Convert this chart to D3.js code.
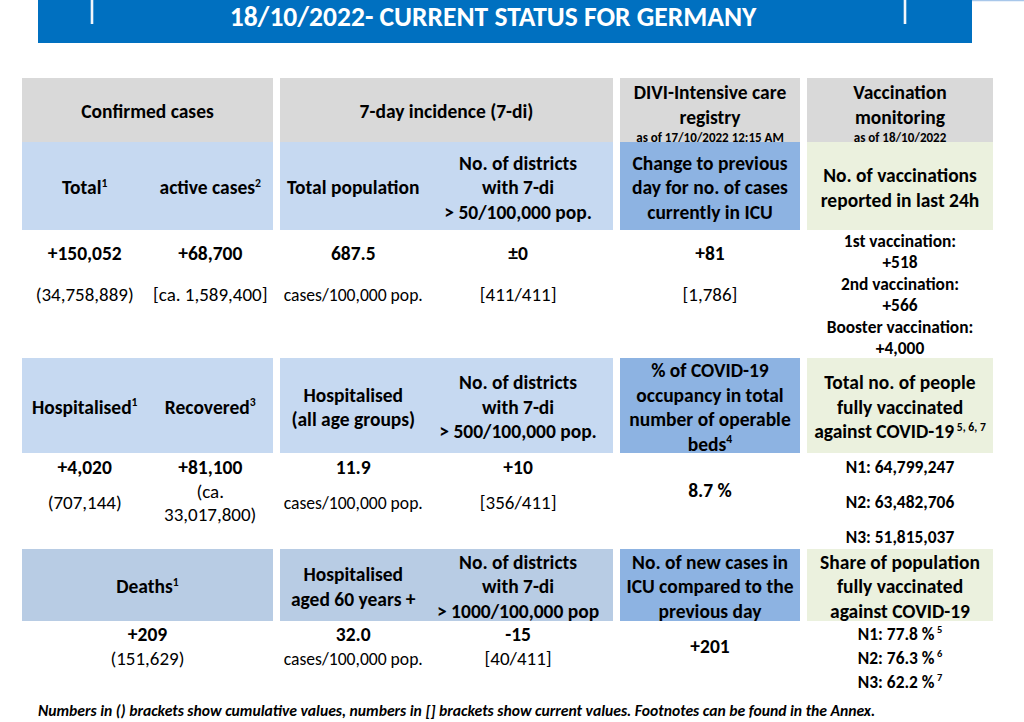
<!DOCTYPE html>
<html>
<head>
<meta charset="utf-8">
<script src="https://cdn.jsdelivr.net/npm/d3@7"></script>
<style>
  html, body { margin: 0; padding: 0; background: #fff; }
  svg { display: block; }
</style>
</head>
<body>
<script>
// ---------- data ----------
const title = "18/10/2022- CURRENT STATUS FOR GERMANY"
const footnote = "Numbers in () brackets show cumulative values, numbers in [] brackets show current values. Footnotes can be found in the Annex."

const groupTitles = [["Confirmed cases"], ["7-day incidence (7-di)"], ["DIVI-Intensive care", "registry"], ["Vaccination", "monitoring"]]
const groupNotes = ["", "", "as of 17/10/2022 12:15 AM", "as of 18/10/2022"]
const slots = ["total", "active", "confirmed", "incPop", "incDist", "icu", "vacc"]

// section 1
const labels1 = [
  {slot: "total", lines: ["Total"], sup: "1"},
  {slot: "active", lines: ["active cases"], sup: "2"},
  {slot: "incPop", lines: ["Total population"]},
  {slot: "incDist", lines: ["No. of districts", "with 7-di", "> 50/100,000 pop."]},
  {slot: "icu", lines: ["Change to previous", "day for no. of cases", "currently in ICU"]},
  {slot: "vacc", lines: ["No. of vaccinations", "reported in last 24h"]}
]
const values1 = [
  {slot: "total", main: "+150,052", sub: ["(34,758,889)"]},
  {slot: "active", main: "+68,700", sub: ["[ca. 1,589,400]"]},
  {slot: "incPop", main: "687.5", unit: "cases/100,000 pop."},
  {slot: "incDist", main: "±0", sub: ["[411/411]"]},
  {slot: "icu", main: "+81", sub: ["[1,786]"]}
]
const doseLabels = ["1st vaccination:", "2nd vaccination:", "Booster vaccination:"]
const doseValues = ["+518", "+566", "+4,000"]

// section 2
const labels2 = [
  {slot: "total", lines: ["Hospitalised"], sup: "1"},
  {slot: "active", lines: ["Recovered"], sup: "3"},
  {slot: "incPop", lines: ["Hospitalised", "(all age groups)"]},
  {slot: "incDist", lines: ["No. of districts", "with 7-di", "> 500/100,000 pop."]},
  {slot: "icu", lines: ["% of COVID-19", "occupancy in total", "number of operable", "beds"], sup: "4"},
  {slot: "vacc", lines: ["Total no. of people", "fully vaccinated", "against COVID-19"], sup: " 5, 6, 7"}
]
const values2 = [
  {slot: "total", main: "+4,020", sub: ["(707,144)"]},
  {slot: "active", main: "+81,100", sub: ["(ca.", "33,017,800)"]},
  {slot: "incPop", main: "11.9", unit: "cases/100,000 pop."},
  {slot: "incDist", main: "+10", sub: ["[356/411]"]},
  {slot: "icu", main: "8.7 %"}
]
const fullyVaccinated = ["N1: 64,799,247", "N2: 63,482,706", "N3: 51,815,037"]

// section 3
const labels3 = [
  {slot: "confirmed", lines: ["Deaths"], sup: "1"},
  {slot: "incPop", lines: ["Hospitalised", "aged 60 years +"]},
  {slot: "incDist", lines: ["No. of districts", "with 7-di", "> 1000/100,000 pop"]},
  {slot: "icu", lines: ["No. of new cases in", "ICU compared to the", "previous day"]},
  {slot: "vacc", lines: ["Share of population", "fully vaccinated", "against COVID-19"]}
]
const values3 = [
  {slot: "confirmed", main: "+209", sub: ["(151,629)"]},
  {slot: "incPop", main: "32.0", unit: "cases/100,000 pop."},
  {slot: "incDist", main: "-15", sub: ["[40/411]"]},
  {slot: "icu", main: "+201"}
]
const shareLabels = ["N1: 77.8 %", "N2: 76.3 %", "N3: 62.2 %"]
const shareNotes = ["5", "6", "7"]

// ---------- layout ----------
const FONT = "Carlito, Calibri, 'Liberation Sans Narrow', 'Open Sans', sans-serif"
const GAP = 7
const LINE = 24.5

const svg = d3.select('body').append('svg').attr('width', 1024).attr('height', 722)

// scale of the four column groups (polylinear)
const xCol = d3.scaleLinear().domain([0, 1, 2, 3, 4]).range([22, 280, 620, 807, 1000])
const colW = i => xCol(i + 1) - xCol(i) - GAP
const slotX = d3.scaleOrdinal().domain(slots).range([
  xCol(0) + colW(0) * 0.25,
  xCol(0) + colW(0) * 0.75,
  xCol(0) + colW(0) * 0.5,
  xCol(1) + colW(1) * 0.22,
  xCol(1) + colW(1) * 0.715,
  xCol(2) + colW(2) * 0.5,
  xCol(3) + colW(3) * 0.5
])

// font width correction, so whatever font is found takes the same room
const probe = svg.append('text').attr('font-family', FONT).attr('font-weight', 'bold')
  .attr('font-size', 19.5).text("No. of districts")
const k = 118 / probe.node().getComputedTextLength()
probe.remove()
const fs = s => s * k

function addText(x, y, str, size, weight, sup, style) {
  const t = svg.append('text')
    .attr('x', x)
    .attr('y', y + size * 0.34)
    .attr('text-anchor', 'middle')
    .attr('font-family', FONT)
    .attr('font-size', size)
    .attr('font-weight', weight)
    .attr('font-style', style || 'normal')
    .attr('fill', '#000')
  t.append('tspan').text(str)
  if (sup) {
    t.append('tspan').attr('font-size', size * 0.6).attr('dy', -size * 0.4).text(sup)
  }
  return t
}

// ---------- banner ----------
svg.append('rect').attr('x', 38).attr('y', 0).attr('width', 934).attr('height', 43).attr('fill', '#0070c0')
svg.append('line').attr('x1', 972).attr('x2', 1024).attr('y1', 0.6).attr('y2', 0.6)
  .attr('stroke', '#a8c7ea').attr('stroke-width', 1.4)
;[92, 905].forEach(x => {
  svg.append('rect').attr('x', x - 1.3).attr('y', 0).attr('width', 2.6).attr('height', 24).attr('fill', '#f2f6fb')
})
const titleText = svg.append('text')
  .attr('x', 493).attr('y', 26)
  .attr('text-anchor', 'middle')
  .attr('font-family', FONT).attr('font-weight', 'bold').attr('font-size', 24)
  .attr('fill', '#fff').text(title)
titleText.attr('font-size', 24 * 527 / titleText.node().getComputedTextLength())

// ---------- group headers ----------
const headBand = [78, 142]
groupTitles.forEach((lines, g) => {
  svg.append('rect').attr('x', xCol(g)).attr('y', headBand[0])
    .attr('width', colW(g)).attr('height', headBand[1] - headBand[0]).attr('fill', '#d9d9d9')
  const cx = xCol(g) + colW(g) / 2
  const mid = (headBand[0] + headBand[1]) / 2 + 1
  const shift = groupNotes[g] ? -6 : 0
  lines.forEach((l, i) => {
    addText(cx, mid + (i - (lines.length - 1) / 2) * LINE + shift, l, fs(19.5), 'bold')
  })
  if (groupNotes[g]) {
    const lastY = mid + ((lines.length - 1) / 2) * LINE + shift
    addText(cx, lastY + 20, groupNotes[g], fs(13), 'bold')
  }
})

// ---------- sections ----------
const sections = [
  {labels: labels1, values: values1, band: [142, 230], mainY: 253, subY: 295,
   vacc: d3.merge(doseLabels.map((d, i) => [{text: d}, {text: doseValues[i]}])), vaccY: [241, 348]},
  {labels: labels2, values: values2, band: [358, 453], mainY: 467, subY: 503,
   vacc: fullyVaccinated.map(d => ({text: d})), vaccY: [467, 537]},
  {labels: labels3, values: values3, band: [549, 621], mainY: 634, subY: 659,
   vacc: shareLabels.map((d, i) => ({text: d, sup: ' ' + shareNotes[i]})), vaccY: [634, 682]}
]

const cellFill = (s, g) => g === 2 ? '#8db3e2' : g === 3 ? '#ebf1de' : s === 2 ? '#b8cce4' : '#c6d9f1'

sections.forEach((sec, s) => {
  // coloured label cells
  d3.range(4).forEach(g => {
    svg.append('rect').attr('x', xCol(g)).attr('y', sec.band[0])
      .attr('width', colW(g)).attr('height', sec.band[1] - sec.band[0]).attr('fill', cellFill(s, g))
  })
  const mid = (sec.band[0] + sec.band[1]) / 2 + 1.8
  sec.labels.forEach(lab => {
    lab.lines.forEach((l, i) => {
      const last = i === lab.lines.length - 1
      addText(slotX(lab.slot), mid + (i - (lab.lines.length - 1) / 2) * LINE, l, fs(19.5), 'bold', last ? lab.sup : null)
    })
  })

  // values
  let bottom = sec.subY
  sec.values.forEach(v => {
    if (v.sub && v.sub.length > 1) bottom = Math.max(bottom, sec.subY + (v.sub.length - 1) / 2 * 23)
  })
  sec.values.forEach(v => {
    const x = slotX(v.slot)
    if (!v.sub && !v.unit) {
      addText(x, (sec.mainY + bottom) / 2, v.main, fs(19.5), 'bold')
      return
    }
    addText(x, sec.mainY, v.main, fs(19.5), 'bold')
    if (v.unit) addText(x, sec.subY, v.unit, fs(17.6), 'normal')
    if (v.sub) {
      v.sub.forEach((l, i) => {
        addText(x, sec.subY + (i - (v.sub.length - 1) / 2) * 23, l, fs(19), 'normal')
      })
    }
  })

  // vaccination column
  const yV = d3.scalePoint().domain(d3.range(sec.vacc.length)).range(sec.vaccY)
  sec.vacc.forEach((d, i) => {
    addText(slotX('vacc'), yV(i), d.text, fs(17.4), 'bold', d.sup)
  })
})

// ---------- footnote ----------
const foot = svg.append('text')
  .attr('x', 38).attr('y', 716)
  .attr('font-family', FONT).attr('font-weight', 'bold').attr('font-style', 'italic')
  .attr('font-size', 14).attr('fill', '#000').text(footnote)
foot.attr('font-size', 14 * 838 / foot.node().getComputedTextLength())
</script>
</body>
</html>
